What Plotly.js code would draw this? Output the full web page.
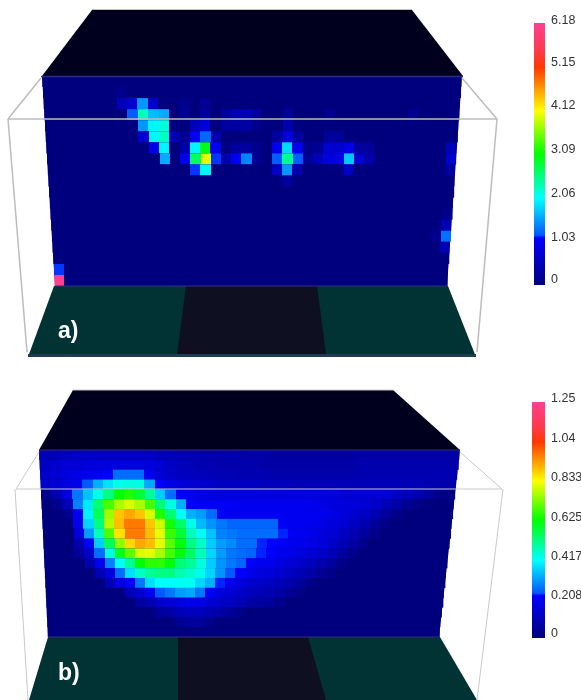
<!DOCTYPE html>
<html>
<head>
<meta charset="utf-8">
<script src="https://cdn.plot.ly/plotly-3.0.1.min.js"></script>
<style>html,body{margin:0;padding:0;background:#fff;overflow:hidden}#chart{width:581px;height:700px;filter:blur(0.45px)}</style>
</head>
<body>
<div id="chart"></div>
<script>
// Panel a: cell values in hundredths, rows top to bottom, columns left to right (omitted = 0)
const rowsA = [
 [],
 [0,0,0,0,0,0,0,15],
 [0,0,0,0,0,0,0,50,70,150,60,0,0,15,0,20],
 [0,0,0,0,0,0,0,0,120,230,170,160,0,20,0,30,0,30,50,50,30,0,0,30,0,0,0,20,0,0,0,0,0,0,0,20],
 [0,0,0,0,0,0,0,0,0,150,200,220,0,0,50,80,0,30,30,30,10,0,0,40],
 [0,0,0,0,0,0,0,0,0,70,200,230,40,20,100,125,40,0,0,0,0,0,30,80,30,0,0,25,25],
 [0,0,0,0,0,0,0,0,0,0,90,200,0,40,200,300,95,0,30,30,15,0,95,185,95,10,20,70,70,90,30,25,0,0,0,0,0,0,0,50],
 [0,0,0,0,0,0,0,0,0,0,0,160,0,95,270,400,115,40,100,140,15,0,120,250,120,20,50,85,85,175,70,40,0,0,0,0,0,0,0,70],
 [0,0,0,0,0,0,0,0,0,0,0,0,0,0,115,200,0,0,0,0,0,0,60,150,40,0,0,0,0,60,0,0,0,0,0,0,0,0,0,30],
 [0,0,0,0,0,0,0,0,0,0,0,0,0,0,0,0,0,0,0,0,0,0,0,30],
 [],[],
 [0,0,0,0,0,0,0,0,0,0,0,0,0,0,0,0,0,0,0,0,0,0,0,0,0,0,0,0,0,0,0,0,0,0,0,0,0,0,0,10],
 [0,0,0,0,0,0,0,0,0,0,0,0,0,0,0,0,0,0,0,0,0,0,0,0,0,0,0,0,0,0,0,0,0,0,0,0,0,0,0,50],
 [0,0,0,0,0,0,0,0,0,0,0,0,0,0,0,0,0,0,0,0,0,0,0,0,0,0,0,0,0,0,0,0,0,0,0,0,0,0,15,130],
 [0,0,0,0,0,0,0,0,0,0,0,0,0,0,0,0,0,0,0,0,0,0,0,0,0,0,0,0,0,0,0,0,0,0,0,0,0,0,0,50],
 [],
 [115],
 [618]
];
// Panel b: cell values in hundredths of the same grid
const rowsB = [
 [10,10,11,12,12,12,12,12,12,12,12,10,10,9,9,8,8,8,8,7,7,7,6,6,6,6,6,6,6,6,7,7,7,7,7,7,7,7,7,7],
 [12,14,15,15,16,17,17,17,17,17,17,15,12,11,10,9,9,8,8,8,8,7,7,7,7,7,7,7,7,7,8,8,8,8,8,8,8,8,8,8],
 [13,15,17,18,19,20,22,26,26,26,20,15,13,12,11,11,10,10,10,9,9,9,8,8,8,8,8,8,8,8,9,9,9,9,9,9,9,9,9,9],
 [13,15,17,19,24,33,38,43,44,44,32,22,18,16,15,14,13,12,12,12,12,11,11,11,10,10,10,10,10,10,10,10,10,10,10,10,10,9,9,8],
 [3,8,17,27,35,43,52,62,65,58,50,36,26,21,19,18,17,17,17,17,17,17,17,17,17,17,17,17,16,15,15,15,15,15,12,10,8,5,3,2],
 [0,3,10,28,39,53,68,76,80,76,68,53,44,33,22,21,21,21,21,20,20,20,20,20,20,20,19,18,17,16,16,15,13,10,7,4,2],
 [0,0,3,20,40,55,75,89,92,89,80,65,53,42,33,31,26,21,20,20,20,20,20,20,20,20,20,19,18,16,14,12,9,5,2],
 [0,0,0,19,37,52,77,90,97,97,89,79,64,54,43,34,30,27,25,25,25,25,25,21,20,20,19,18,17,15,12,9,5,2],
 [0,0,0,17,31,47,69,86,97,97,90,81,67,58,47,42,35,28,27,26,26,26,26,23,21,20,19,17,15,12,9,5,2],
 [0,0,0,8,22,36,55,74,87,92,90,81,70,62,52,46,36,31,29,26,26,23,22,21,20,19,18,16,13,10,7,3],
 [0,0,0,5,13,26,44,60,70,80,81,76,68,62,55,47,37,31,27,26,25,23,22,20,19,17,15,13,10,6,3],
 [0,0,0,0,8,20,28,42,50,62,66,66,62,53,50,44,36,30,27,25,22,20,19,17,15,13,11,8,5,2],
 [0,0,0,0,0,10,16,26,38,46,50,52,52,48,46,43,37,30,24,22,19,17,16,14,12,10,7,4,2],
 [0,0,0,0,0,0,10,17,21,27,38,42,42,42,42,37,33,23,19,17,14,13,12,10,8,5,2],
 [0,0,0,0,0,0,0,0,10,14,20,24,27,31,32,27,21,17,15,13,11,10,9,7,4,2],
 [0,0,0,0,0,0,0,0,0,6,9,13,15,17,19,18,15,13,12,10,7,6,5,3],
 [0,0,0,0,0,0,0,0,0,0,0,5,7,10,11,11,9,7,5,3],
 [0,0,0,0,0,0,0,0,0,0,0,0,0,4,5,5,3],
 []
];
const ticksA = ["6.18","5.15","4.12","3.09","2.06","1.03","0"];
const ticksB = ["1.25","1.04","0.833","0.625","0.417","0.208","0"];
const panelLabels = ["a)","b)"];
const maxA = 6.18, maxB = 1.25, columns = 40;

const colorscale = [
 [0,'#00007e'],[0.18,'#0000ff'],[0.19,'#0058ff'],[0.33,'#00ffff'],
 [0.5,'#00ff00'],[0.665,'#ffff00'],[0.83,'#ff3800'],[0.9,'#ff3a50'],[1,'#ff4090']
];

function rowTraces(rows, g, axisName){
  const h = (g.bottom - g.top) / rows.length;
  return rows.map((row, r) => {
    const yMid = g.top + (r + 0.5) * h, t = (yMid - g.top) / (g.bottom - g.top);
    const l = g.lTop + (g.lBot - g.lTop) * t, rt = g.rTop + (g.rBot - g.rTop) * t;
    const dx = (rt - l) / columns;
    const z = [];
    for (let c = 0; c < columns; c++) z.push((row[c] || 0) / 100);
    return {type:'heatmap', z:[z], x0:l + dx/2, dx:dx, y0:yMid, dy:h,
            coloraxis:axisName, hoverinfo:'skip', zsmooth:false};
  });
}

const gA = {top:76, bottom:286, lTop:42, lBot:55, rTop:462, rBot:447};
const gB = {top:450, bottom:637, lTop:39, lBot:48, rTop:460, rBot:439};
const data = rowTraces(rowsA, gA, 'coloraxis').concat(rowTraces(rowsB, gB, 'coloraxis2'));

const poly = (d, fill, layer) => ({type:'path', path:d, fillcolor:fill, line:{width:0}, layer:layer||'below', xref:'x', yref:'y'});
const seg = (x0,y0,x1,y1,c,w) => ({type:'line',x0,y0,x1,y1,line:{color:c,width:w},layer:'above',xref:'x',yref:'y'});
const TOP='#00001e', FLOOR='#013334', MID='#0f0f22', NAVY='#00007e', WA='#bcbcbc', WB='#c9c9c9';

const shapes = [
 // panel a
 seg(8,119,41,78,WA,1.5), seg(462,78,497,119,WA,1.5),
 seg(8,119,27,352,WA,1.5), seg(497,119,477,352,WA,1.5),
 poly('M92,10 L412,10 L463,76 L42,76 Z',TOP),
 poly('M42,76 L462,76 L447,286 L55,286 Z',NAVY),
 poly('M54,286 L448,286 L476,357 L28,357 Z',FLOOR),
 poly('M186,286 L317,286 L326,354 L177,354 Z',MID),
 poly('M28,354 L476,354 L476,357 L28,357 Z','#1f3d50'),
 seg(92,9.5,412,9.5,'#c4c4c4',1),
 seg(41,76.5,463,76.5,'#2d2d8a',1.5),
 seg(55,286,447,286,'#30307c',1),
 seg(8,119,497,119,WA,1.6),
 // panel b
 seg(16,489,39,452,WB,1), seg(460,452,502,489,WB,1),
 seg(15,489,28,700,WB,1), seg(503,489,477,700,WB,1),
 poly('M73,390 L393,390 L460,450 L39,450 Z',TOP),
 poly('M39,450 L460,450 L439,637 L48,637 Z',NAVY),
 poly('M48,637 L440,637 L477,700 L29,700 Z',FLOOR),
 poly('M178,637 L308,637 L326,700 L178,700 Z',MID),
 seg(73,390,393,390,'#c9c9c9',1),
 seg(39,450,460,450,'#30307c',1),
 seg(48,637,439,637,'#30307c',1),
 seg(16,489,502,489,WB,1)
];

const labelYA = [20,62,105,149,193,237,279];
const labelYB = [398,438,477,517,556,595,633];
const tickAnn = (t,y) => ({text:t, x:549, y:y, xref:'x', yref:'y', xanchor:'left', yanchor:'middle',
  showarrow:false, align:'left', font:{family:'Liberation Sans', size:12.5, color:'#333333'}});
const annotations = ticksA.map((t,i)=>tickAnn(t,labelYA[i])).concat(ticksB.map((t,i)=>tickAnn(t,labelYB[i])));
[[panelLabels[0],68,330],[panelLabels[1],69,672]].forEach(p=>annotations.push({
  text:'<b>'+p[0]+'</b>', x:p[1], y:p[2], xref:'x', yref:'y', showarrow:false,
  font:{family:'Liberation Sans', size:23, color:'#ffffff'}}));

const bar = (x,w,top,bottom) => ({thickness:w, thicknessmode:'pixels', len:bottom-top, lenmode:'pixels',
  x:x/581, xanchor:'left', y:1-bottom/700, yanchor:'bottom', xpad:0, ypad:0,
  outlinewidth:0, ticks:'', showticklabels:false});

const layout = {
  width:581, height:700, margin:{l:0,r:0,t:0,b:0},
  paper_bgcolor:'#ffffff', plot_bgcolor:'#ffffff', showlegend:false,
  xaxis:{range:[0,581], visible:false, fixedrange:true},
  yaxis:{range:[700,0], visible:false, fixedrange:true},
  coloraxis:{cmin:0, cmax:maxA, colorscale:colorscale, colorbar:bar(534,11,23,285)},
  coloraxis2:{cmin:0, cmax:maxB, colorscale:colorscale, colorbar:bar(532,13,402,638)},
  shapes:shapes, annotations:annotations
};
Plotly.newPlot('chart', data, layout, {displayModeBar:false, staticPlot:true});
</script>
</body>
</html>
